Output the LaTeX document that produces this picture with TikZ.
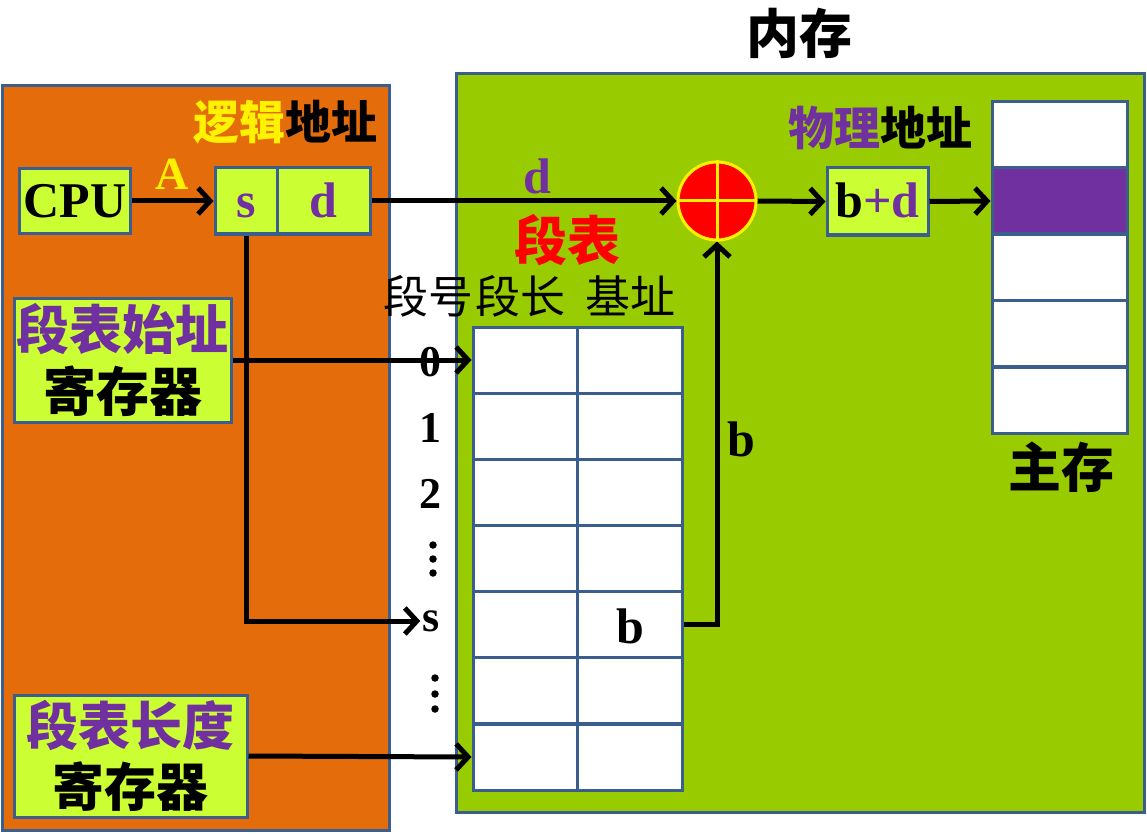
\documentclass[tikz,border=0pt]{standalone}
\usepackage{fontspec}
\setmainfont{Liberation Serif}
\newfontfamily\cjk{Noto Sans CJK SC}
\usetikzlibrary{arrows.meta}
\definecolor{borange}{HTML}{E46C0A}
\definecolor{bgreen}{HTML}{99CC00}
\definecolor{lgreen}{HTML}{CCFF33}
\definecolor{bpurple}{HTML}{7030A0}
\definecolor{bblue}{HTML}{3A5F8E}
\begin{document}
\begin{tikzpicture}[x=1pt,y=-1pt,
  panel/.style={draw=bblue,line width=3pt},
  lbox/.style={draw=bblue,line width=3pt,fill=lgreen,inner sep=0pt},
  cell/.style={draw=bblue,line width=3pt,fill=white,minimum width=105pt,minimum height=66pt,inner sep=0pt},
  conn/.style={line width=5pt,-{Straight Barb[length=12pt,width=26pt,line width=5pt]}},
  latin/.style={font=\fontsize{50}{50}\selectfont\bfseries,inner sep=0pt,text height=34pt,text depth=1pt},
  rowlbl/.style={font=\fontsize{44}{44}\selectfont\bfseries,inner sep=2pt},
  zh/.style={font=\fontsize{53}{53}\selectfont\cjk\bfseries,inner sep=0pt},
  zhs/.style={font=\fontsize{46}{46}\selectfont\cjk\bfseries,inner sep=0pt},
  zhr/.style={font=\fontsize{45}{45}\selectfont\cjk,inner sep=0pt},
  dot/.style={fill=black,circle,inner sep=0pt,minimum size=7.5pt}
]
\path[use as bounding box] (0,0) rectangle (1147,834);
% panels
\draw[panel,fill=borange] (2,86) rectangle (389,830);
\draw[panel,fill=bgreen] (456,74) rectangle (1144,812);

% titles
\node[zh] (neicun) at (799,33) {内存};
\node[zhs] (ljdz) at (285,122) {\textcolor{yellow}{逻辑}地址};
\node[zhs] (wldz) at (880,128) {\textcolor{bpurple}{物理}地址};
\node[zh,text=red] (dbt) at (567,240) {段表};
\node[zhr] (hdr1) at (428,296) {段号};
\node[zhr] (hdr2) at (520,296) {段长};
\node[zhr] (hdr3) at (630,296) {基址};
\node[zh] (zhucun) at (1061,467) {主存};

% CPU and logical address
\node[lbox,latin,minimum width=111pt,minimum height=65pt] (cpu) at (75,201) {CPU};
\node[lbox,latin,text=bpurple,minimum width=62pt,minimum height=66pt] (sbox) at (246,201) {s};
\node[lbox,latin,text=bpurple,minimum width=93pt,minimum height=66pt] (dbox) at (323.5,201) {d};
\node[font=\fontsize{46}{46}\selectfont\bfseries,text=yellow,inner sep=0pt] (alab) at (172,174) {A};

% registers
\node[lbox,minimum width=217pt,minimum height=124pt,align=center,
      font=\fontsize{53}{62}\selectfont\cjk\bfseries] (startreg) at (122.5,360)
      {\textcolor{bpurple}{段表始址}\\寄存器};
\node[lbox,minimum width=233pt,minimum height=122pt,align=center,
      font=\fontsize{52}{61}\selectfont\cjk\bfseries] (lenreg) at (130.5,756)
      {\textcolor{bpurple}{段表长度}\\寄存器};

% adder
\node[circle,fill=red,draw=yellow,line width=3pt,minimum size=78pt,inner sep=0pt] (adder) at (717,201) {};
\draw[yellow,line width=3pt] (adder.north) -- (adder.south) (adder.west) -- (adder.east);

% physical address
\node[lbox,latin,minimum width=101pt,minimum height=67pt] (bd) at (877.5,201.5) {b\textcolor{bpurple}{+d}};

% main memory
\foreach \i/\y in {1/135,3/267,4/333,5/400}{
  \node[cell,minimum width=135pt] (m\i) at (1059.5,\y) {};
}
\node[draw=bblue,line width=3pt,fill=bpurple,minimum width=135pt,minimum height=66pt,inner sep=0pt] (m2) at (1059.5,201) {};

% segment table
\foreach \r/\y in {1/360,2/426,3/492,4/558,5/624,6/690,7/757}{
  \node[cell] (t-\r-1) at (525.5,\y) {};
  \node[cell] (t-\r-2) at (630,\y) {};
}
\node[latin] (bval) at (630,627) {b};

% row labels
\node[rowlbl] (l0) at (430,362) {0};
\node[rowlbl] (l1) at (430,428) {1};
\node[rowlbl] (l2) at (430,494) {2};
\node[dot] (v1a) at (433,545) {};
\node[dot] (v1b) at (433,559) {};
\node[dot] (v1c) at (433,573) {};
\node[rowlbl] (ls) at (431,621) {s};
\node[dot] (v2a) at (435,678) {};
\node[dot] (v2b) at (435,694) {};
\node[dot] (v2c) at (435,709) {};

% connectors
\draw[conn] (cpu.east) -- (sbox.west);
\draw[conn] (dbox.east) -- (adder.west);
\node[latin,text=bpurple] (dlab) at (537,177) {d};
\draw[conn] (adder.east) -- (bd.west);
\draw[conn] (bd.east) -- (m2.west);
\draw[conn] (startreg.east) -- (t-1-1.west);
\draw[conn] (sbox.south) |- (ls.west);
\draw[conn] (lenreg.east) -- (t-7-1.west);
\draw[conn] (t-5-2.east) -| (adder.south);
\node[latin] (blab) at (741,440) {b};
\end{tikzpicture}
\end{document}
